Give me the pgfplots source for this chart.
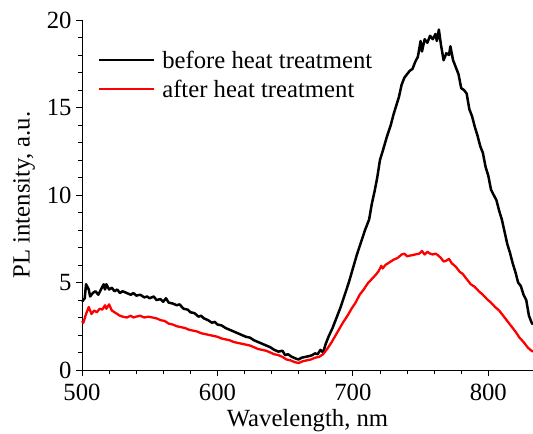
\documentclass[border=0pt]{standalone}
\usepackage{pgfplots}
\pgfplotsset{compat=1.18}
\usepackage{fontspec}
\setmainfont{Liberation Serif}
\pgfplotstableread{
x y
500 3.9
502 4.1
503 4.9
505 4.6
506 4.2
508 4.4
510 4.5
512 4.3
514 4.6
516 4.9
517 4.6
518 4.9
520 4.6
522 4.7
524 4.5
526 4.6
528 4.4
530 4.5
533 4.4
536 4.3
538 4.4
540 4.25
543 4.3
546 4.15
548 4.2
550 4.1
553 4.2
555 4.0
558 4.05
560 3.9
562 4.1
564 3.85
567 3.8
570 3.7
572 3.75
575 3.5
578 3.45
580 3.3
583 3.25
586 3.05
588 3.1
590 2.95
593 2.85
596 2.7
598 2.75
600 2.6
603 2.55
606 2.4
609 2.3
612 2.2
615 2.1
618 2.0
621 1.9
624 1.85
627 1.7
630 1.6
633 1.5
636 1.4
639 1.3
642 1.15
645 1.05
648 1.1
650 0.85
652 0.9
655 0.75
658 0.65
660 0.6
662 0.7
665 0.75
668 0.8
670 0.85
672 0.95
674 0.9
676 1.15
678 1.0
680 1.5
682 1.9
685 2.4
688 3.0
691 3.6
694 4.3
697 5.0
700 5.8
703 6.6
706 7.3
709 8.0
712 8.6
714 9.5
716 10.2
718 11.0
720 12.0
722 12.5
725 13.3
728 14.0
730 14.6
732 15.1
734 15.6
736 16.3
738 16.7
740 16.9
742 17.1
744 17.2
746 17.6
748 17.9
750 18.8
751 18.2
753 18.9
755 18.7
757 19.1
759 18.9
761 19.2
762 18.8
763.5 19.45
765 18.6
767 17.7
769 18.1
771 18.0
772 18.5
774 17.7
776 17.3
778 16.9
780 16.1
782 16.0
784 15.8
786 14.9
788 14.5
790 13.9
792 13.4
794 12.8
796 12.4
798 11.6
800 11.1
802 10.3
804 10.0
806 9.7
808 9.1
810 8.6
812 7.9
814 7.2
816 6.7
818 6.1
820 5.6
822 5.0
824 4.8
826 4.3
828 4.0
830 3.1
832 2.7
833 2.6
}\before
\pgfplotstableread{
x y
500 2.8
501 2.7
503 3.2
505 3.6
507 3.2
509 3.4
511 3.3
513 3.5
515 3.45
517 3.7
518 3.5
520 3.75
522 3.4
524 3.3
526 3.2
528 3.1
530 3.05
533 3.0
536 3.1
538 3.0
540 3.05
543 3.1
546 3.0
549 3.05
552 3.0
555 2.95
558 2.85
561 2.8
564 2.65
567 2.6
570 2.5
573 2.45
576 2.4
579 2.3
582 2.25
585 2.2
588 2.1
591 2.05
594 2.0
597 1.95
600 1.9
603 1.8
606 1.75
609 1.7
612 1.6
615 1.55
618 1.5
621 1.45
624 1.4
627 1.3
630 1.2
633 1.15
636 1.1
639 1.0
642 0.9
645 0.85
648 0.75
651 0.6
654 0.55
657 0.45
660 0.4
663 0.5
666 0.55
669 0.6
672 0.7
675 0.75
678 0.9
681 1.2
684 1.55
687 1.95
690 2.35
693 2.75
696 3.1
699 3.5
702 3.85
705 4.3
708 4.6
711 4.95
714 5.2
717 5.45
719 5.65
721 5.95
722 5.8
724 6.0
727 6.15
730 6.3
733 6.4
736 6.6
738 6.65
740 6.5
743 6.55
746 6.6
749 6.65
751 6.8
753 6.6
755 6.75
757 6.65
759 6.6
761 6.65
763 6.55
765 6.4
767 6.2
769 6.25
771 6.35
773 6.1
776 5.9
779 5.6
781 5.5
784 5.2
787 4.9
790 4.75
793 4.5
796 4.3
799 4.05
802 3.85
805 3.6
808 3.4
811 3.1
814 2.8
817 2.5
820 2.2
823 1.85
826 1.6
829 1.3
831 1.15
833 1.05
}\after
\begin{document}
\begin{tikzpicture}
\begin{axis}[
  scale only axis,
  width=451bp, height=350bp,
  xmin=500, xmax=833, ymin=0, ymax=20,
  axis lines*=left,
  axis line style={line width=0.8bp},
  tick align=outside,
  tick style={black, line width=0.8bp},
  major tick length=6bp,
  minor tick length=3.5bp,
  xtick={500,600,700,800},
  ytick={0,5,10,15,20},
  minor x tick num=4,
  minor y tick num=4,
  /pgf/number format/assume math mode=true,
  ticklabel style={font=\fontsize{24.8}{29}\selectfont},
  label style={font=\fontsize{24.8}{29}\selectfont},
  xlabel={Wavelength, nm},
  ylabel={PL intensity, a.u.},
  xlabel style={yshift=-1bp},
  ylabel style={yshift=5bp},
  xticklabel style={yshift=-5bp},
  yticklabel style={xshift=-1bp},
  legend style={draw=none, fill=none, at={(0.035,0.912)}, anchor=north west,
    font=\fontsize{24.8}{29}\selectfont, row sep=10bp,
    inner sep=0pt, outer sep=0pt,
    nodes={inner sep=0pt}},
  legend cell align=left,
  legend image code/.code={\draw[#1] (0bp,0bp) -- (55bp,0bp); \path (62bp,0bp);},
  clip=false,
]
\addplot[black, line width=2.5bp, line join=round] table {\before};
\addlegendentry{before heat treatment}
\addplot[red, line width=2.3bp, line join=round] table {\after};
\addlegendentry{after heat treatment}
\coordinate (sw) at (rel axis cs:0,0);
\coordinate (ne) at (rel axis cs:1,1);
\end{axis}
\pgfresetboundingbox
\path[use as bounding box] ([xshift=-82bp,yshift=-64bp]sw) rectangle ([yshift=20bp]ne);
\end{tikzpicture}
\end{document}
